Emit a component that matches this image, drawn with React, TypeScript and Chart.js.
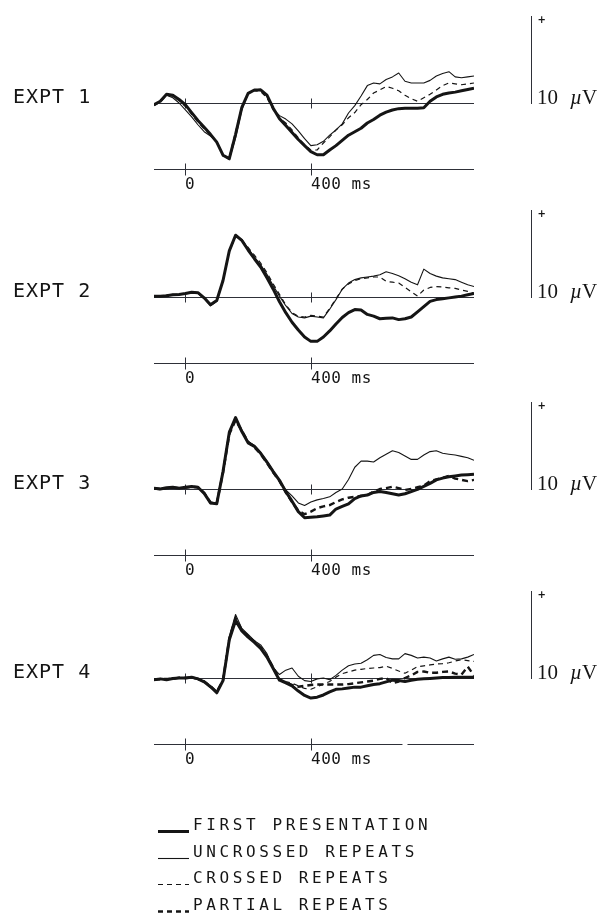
import React, { useEffect, useRef } from "react";
import { Chart, registerables } from "chart.js";

Chart.register(...registerables);

// ---------------- DATA ----------------
// Sample times (ms), every 20 ms from -100 to 920
const TIMES_MS = [
  -100, -80, -60, -40, -20, 0, 20, 40, 60, 80, 100, 120, 140, 160, 180, 200, 220, 240, 260, 280,
  300, 320, 340, 360, 380, 400, 420, 440, 460, 480, 500, 520, 540, 560, 580, 600, 620, 640, 660, 680,
  700, 720, 740, 760, 780, 800, 820, 840, 860, 880, 900, 920,
];

// Amplitudes in microvolts (positive up)
const EXPT1_FIRST = [-0.2, 0.2, 1.0, 0.9, 0.4, -0.2, -1.1, -2.0, -2.8, -3.6, -4.5, -6.0, -6.4, -3.6, -0.5, 1.1, 1.5, 1.5, 0.9, -0.6, -1.8, -2.6, -3.4, -4.2, -4.9, -5.6, -5.95, -5.95, -5.4, -4.9, -4.3, -3.7, -3.3, -2.9, -2.3, -1.9, -1.4, -1.05, -0.8, -0.65, -0.6, -0.6, -0.6, -0.55, 0.2, 0.7, 1.0, 1.15, 1.25, 1.4, 1.55, 1.7];
const EXPT1_UNCROSSED = [-0.2, 0.2, 0.9, 0.6, 0.0, -0.8, -1.6, -2.5, -3.3, -3.8, -4.4, -6.0, -6.5, -4.0, -0.8, 1.1, 1.5, 1.6, 0.8, -0.7, -1.45, -1.85, -2.4, -3.2, -4.1, -4.9, -4.8, -4.4, -3.7, -3.1, -2.4, -1.15, -0.3, 0.8, 2.0, 2.3, 2.2, 2.7, 3.0, 3.45, 2.5, 2.3, 2.3, 2.3, 2.6, 3.1, 3.4, 3.6, 3.0, 2.9, 3.0, 3.1];
const EXPT1_CROSSED = [-0.3, 0.1, 0.9, 0.8, 0.3, -0.4, -1.3, -2.2, -3.0, -3.7, -4.5, -6.1, -6.2, -3.3, -0.4, 1.1, 1.4, 1.3, 0.6, -0.8, -1.7, -2.3, -3.1, -4.0, -4.8, -5.4, -5.4, -4.6, -3.9, -3.1, -2.5, -1.7, -1.1, -0.2, 0.4, 1.15, 1.5, 1.9, 1.7, 1.4, 0.9, 0.5, 0.2, 0.6, 1.0, 1.5, 2.0, 2.3, 2.2, 2.1, 2.2, 2.3];

const EXPT2_FIRST = [0.1, 0.1, 0.15, 0.25, 0.3, 0.4, 0.55, 0.5, -0.1, -0.9, -0.4, 1.9, 5.3, 7.1, 6.5, 5.4, 4.4, 3.45, 2.2, 0.9, -0.55, -1.8, -2.9, -3.8, -4.6, -5.1, -5.1, -4.6, -3.9, -3.1, -2.35, -1.8, -1.45, -1.5, -2.0, -2.2, -2.5, -2.45, -2.4, -2.6, -2.5, -2.3, -1.7, -1.1, -0.5, -0.3, -0.2, -0.1, 0.0, 0.1, 0.25, 0.4];
const EXPT2_UNCROSSED = [0.1, 0.05, 0.2, 0.3, 0.3, 0.35, 0.5, 0.45, -0.2, -1.0, -0.5, 1.8, 5.2, 7.0, 6.6, 5.6, 4.6, 3.7, 2.6, 1.3, 0.1, -1.0, -1.9, -2.3, -2.4, -2.2, -2.3, -2.4, -1.4, -0.3, 0.9, 1.6, 2.0, 2.2, 2.3, 2.4, 2.55, 2.9, 2.7, 2.45, 2.1, 1.7, 1.4, 3.2, 2.7, 2.4, 2.2, 2.1, 2.0, 1.7, 1.4, 1.2];
const EXPT2_CROSSED = [0.1, 0.1, 0.2, 0.25, 0.35, 0.4, 0.5, 0.4, -0.15, -0.95, -0.45, 1.85, 5.2, 7.0, 6.6, 5.7, 4.8, 3.9, 2.8, 1.5, 0.3, -0.9, -1.8, -2.2, -2.3, -2.1, -2.2, -2.3, -1.3, -0.2, 0.9, 1.5, 1.9, 2.1, 2.2, 2.3, 2.3, 1.8, 1.7, 1.6, 1.1, 0.6, 0.1, 0.8, 1.1, 1.2, 1.15, 1.05, 1.0, 0.8, 0.65, 0.45];

const EXPT3_FIRST = [0.1, 0.0, 0.15, 0.2, 0.1, 0.2, 0.3, 0.2, -0.5, -1.6, -1.7, 2.0, 6.5, 8.2, 6.6, 5.3, 4.9, 4.1, 3.1, 2.0, 1.0, -0.3, -1.4, -2.6, -3.3, -3.25, -3.2, -3.1, -3.0, -2.3, -2.0, -1.7, -1.1, -0.8, -0.7, -0.4, -0.3, -0.4, -0.55, -0.7, -0.55, -0.3, -0.05, 0.3, 0.65, 1.05, 1.25, 1.4, 1.5, 1.6, 1.65, 1.7];
const EXPT3_UNCROSSED = [0.1, 0.05, 0.1, 0.2, 0.15, 0.2, 0.25, 0.15, -0.55, -1.7, -1.6, 2.2, 6.7, 8.0, 6.8, 5.5, 5.0, 4.2, 3.2, 2.1, 1.0, -0.1, -0.8, -1.6, -1.9, -1.5, -1.25, -1.1, -0.9, -0.4, 0.0, 1.1, 2.5, 3.2, 3.2, 3.1, 3.6, 4.0, 4.4, 4.2, 3.8, 3.4, 3.4, 3.9, 4.3, 4.4, 4.1, 4.0, 3.9, 3.75, 3.6, 3.3];
const EXPT3_PARTIAL = [0.05, 0.0, 0.1, 0.15, 0.1, 0.15, 0.25, 0.2, -0.45, -1.55, -1.65, 1.9, 6.3, 7.9, 6.7, 5.4, 4.8, 4.0, 3.0, 1.9, 0.9, -0.4, -1.5, -2.5, -2.9, -2.6, -2.2, -2.0, -1.85, -1.5, -1.2, -1.0, -0.9, -0.8, -0.7, -0.3, 0.0, 0.1, 0.27, 0.1, -0.1, 0.0, 0.2, 0.4, 0.9, 1.1, 1.3, 1.5, 1.2, 1.05, 0.9, 1.05];

const EXPT4_FIRST = [-0.2, -0.1, -0.2, -0.05, 0.0, 0.0, 0.1, -0.1, -0.45, -1.0, -1.7, -0.3, 4.4, 6.6, 5.4, 4.7, 4.1, 3.4, 2.4, 1.1, -0.25, -0.55, -0.9, -1.5, -2.0, -2.3, -2.2, -1.95, -1.6, -1.3, -1.25, -1.15, -1.05, -1.05, -0.9, -0.75, -0.65, -0.45, -0.25, -0.3, -0.4, -0.25, -0.15, -0.1, -0.05, 0.0, 0.05, 0.05, 0.1, 0.1, 0.1, 0.1];
const EXPT4_UNCROSSED = [-0.15, -0.05, -0.25, 0.0, 0.05, -0.05, 0.15, -0.05, -0.4, -1.1, -1.6, -0.2, 4.8, 7.3, 5.7, 5.0, 4.3, 3.8, 2.8, 1.2, 0.4, 0.9, 1.15, 0.2, -0.3, -0.4, -0.1, 0.0, -0.2, 0.3, 0.9, 1.4, 1.6, 1.7, 2.1, 2.6, 2.7, 2.35, 2.2, 2.2, 2.8, 2.6, 2.3, 2.4, 2.3, 1.95, 2.2, 2.4, 2.15, 2.2, 2.4, 2.7];
const EXPT4_CROSSED = [-0.25, -0.1, -0.15, -0.1, 0.0, 0.05, 0.05, -0.15, -0.5, -1.05, -1.65, -0.35, 4.3, 6.8, 5.6, 4.9, 4.2, 3.5, 2.5, 1.0, -0.1, -0.4, -0.6, -0.9, -1.2, -1.3, -1.0, -0.7, -0.4, 0.1, 0.5, 0.7, 0.9, 1.0, 1.1, 1.15, 1.2, 1.35, 1.1, 0.8, 0.55, 0.9, 1.3, 1.4, 1.5, 1.6, 1.65, 1.75, 1.95, 2.1, 2.0, 1.9];
const EXPT4_PARTIAL = [-0.2, -0.15, -0.1, -0.1, 0.05, 0.0, 0.05, -0.1, -0.4, -0.95, -1.6, -0.25, 4.5, 6.9, 5.5, 4.8, 4.2, 3.5, 2.5, 1.2, -0.15, -0.5, -0.8, -1.0, -0.9, -0.8, -0.75, -0.75, -0.75, -0.75, -0.75, -0.7, -0.6, -0.5, -0.4, -0.3, -0.1, 0.0, -0.6, -0.4, 0.0, 0.3, 0.7, 0.75, 0.6, 0.6, 0.7, 0.75, 0.5, 0.4, 1.3, 0.3];

const PANEL_LABELS = ["EXPT 1", "EXPT 2", "EXPT 3", "EXPT 4"];
const LEGEND_LABELS = ["FIRST PRESENTATION", "UNCROSSED REPEATS", "CROSSED REPEATS", "PARTIAL REPEATS"];
const TIME_TICKS_MS = [0, 400];
const TIME_TICK_LABELS = ["0", "400 ms"];
const CAL_UV = 10;
const CAL_LABEL = "10";
const CAL_UNIT = ["\u00b5", "V"];

// Series per panel (first entry drawn on top)
const PANEL_SERIES: [string, number[]][][] = [
  [["first", EXPT1_FIRST], ["crossed", EXPT1_CROSSED], ["uncrossed", EXPT1_UNCROSSED]],
  [["first", EXPT2_FIRST], ["crossed", EXPT2_CROSSED], ["uncrossed", EXPT2_UNCROSSED]],
  [["first", EXPT3_FIRST], ["partial", EXPT3_PARTIAL], ["uncrossed", EXPT3_UNCROSSED]],
  [["first", EXPT4_FIRST], ["partial", EXPT4_PARTIAL], ["crossed", EXPT4_CROSSED], ["uncrossed", EXPT4_UNCROSSED]],
];

// ---------------- LAYOUT / STYLE ----------------
const W = 598;
const H = 915;
const T_START = -100;
const T_END = 920;
const PX_PER_UV = 8.7;
const PANEL_BASELINE_PX = [103, 297, 489, 678];
const TIME_AXIS_UV = -7.6;
const AXIS_GAPS_MS: number[][][] = [[], [], [], [[692, 708]]];
const INK = "#151515";
const AXIS_INK = "#2e3038";

const STYLES: Record<string, { w: number; dash: number[] }> = {
  first: { w: 3, dash: [] },
  uncrossed: { w: 1.1, dash: [] },
  crossed: { w: 1.2, dash: [5, 4] },
  partial: { w: 2.4, dash: [6, 4] },
};
const LEGEND_KEYS = ["first", "uncrossed", "crossed", "partial"];

const overlayPlugin = {
  id: "erpOverlay",
  beforeDatasetsDraw(chart: any) {
    const ctx = chart.ctx as CanvasRenderingContext2D;
    const xs = chart.scales.x;
    const xl = xs.getPixelForValue(T_START);
    const xr = xs.getPixelForValue(T_END);
    ctx.save();
    ctx.strokeStyle = AXIS_INK;
    ctx.lineWidth = 1;
    PANEL_LABELS.forEach((_, k) => {
      const ys = chart.scales["y" + k];
      const y0 = Math.round(ys.getPixelForValue(0)) + 0.5;
      ctx.beginPath();
      ctx.moveTo(xl, y0);
      ctx.lineTo(xr, y0);
      TIME_TICKS_MS.forEach((t) => {
        const px = Math.round(xs.getPixelForValue(t)) + 0.5;
        ctx.moveTo(px, y0 - 5);
        ctx.lineTo(px, y0 + 5);
      });
      ctx.stroke();
    });
    ctx.restore();
  },
  afterDraw(chart: any) {
    const ctx = chart.ctx as CanvasRenderingContext2D;
    const xs = chart.scales.x;
    ctx.save();
    PANEL_LABELS.forEach((label, k) => {
      const ys = chart.scales["y" + k];
      const y0 = Math.round(ys.getPixelForValue(0));
      // time axis
      const ya = Math.round(ys.getPixelForValue(TIME_AXIS_UV)) + 0.5;
      ctx.strokeStyle = AXIS_INK;
      ctx.lineWidth = 1;
      ctx.setLineDash([]);
      const segs: number[][] = [];
      let s = T_START;
      AXIS_GAPS_MS[k].forEach((g) => {
        segs.push([s, g[0]]);
        s = g[1];
      });
      segs.push([s, T_END]);
      ctx.beginPath();
      segs.forEach((sg) => {
        ctx.moveTo(xs.getPixelForValue(sg[0]), ya);
        ctx.lineTo(xs.getPixelForValue(sg[1]), ya);
      });
      TIME_TICKS_MS.forEach((t) => {
        const px = Math.round(xs.getPixelForValue(t)) + 0.5;
        ctx.moveTo(px, ya - 6);
        ctx.lineTo(px, ya + 6);
      });
      ctx.stroke();
      // tick labels
      ctx.fillStyle = INK;
      ctx.font = '16px "DejaVu Sans Mono"';
      (ctx as any).letterSpacing = "0.5px";
      ctx.textAlign = "left";
      ctx.textBaseline = "alphabetic";
      TIME_TICKS_MS.forEach((t, i) => {
        const px = Math.round(xs.getPixelForValue(t));
        ctx.fillText(TIME_TICK_LABELS[i], px, ya + 19);
      });
      // panel label
      ctx.font = '20px "DejaVu Sans Mono"';
      (ctx as any).letterSpacing = "1px";
      ctx.fillText(label, 13, y0);
      (ctx as any).letterSpacing = "0px";
      // calibration bar
      const calX = 531.5;
      const yTop = ys.getPixelForValue(CAL_UV);
      ctx.beginPath();
      ctx.moveTo(calX, y0 + 1);
      ctx.lineTo(calX, yTop);
      ctx.stroke();
      ctx.font = 'bold 10px "DejaVu Sans"';
      ctx.fillText("+", calX + 6, yTop + 7);
      ctx.font = '21px "Liberation Serif"';
      ctx.fillText(CAL_LABEL, 537, y0 + 1);
      ctx.font = 'italic 21px "Liberation Serif"';
      ctx.fillText(CAL_UNIT[0], 570, y0 + 1);
      ctx.font = '21px "Liberation Serif"';
      ctx.fillText(CAL_UNIT[1], 582, y0 + 1);
    });

    // legend
    const legendBase = [830, 857, 883, 910];
    LEGEND_LABELS.forEach((txt, i) => {
      const st = STYLES[LEGEND_KEYS[i]];
      const yb = legendBase[i];
      ctx.strokeStyle = INK;
      ctx.lineWidth = st.w;
      ctx.setLineDash(st.dash.length ? [5, 4] : []);
      ctx.beginPath();
      ctx.moveTo(158, yb + 1.5);
      ctx.lineTo(189, yb + 1.5);
      ctx.stroke();
      ctx.setLineDash([]);
      ctx.fillStyle = INK;
      ctx.font = '16px "DejaVu Sans Mono"';
      (ctx as any).letterSpacing = "3.6px";
      ctx.fillText(txt, 193, yb);
      (ctx as any).letterSpacing = "0px";
    });
    ctx.restore();
  },
};

export default function App() {
  const ref = useRef<HTMLCanvasElement | null>(null);

  useEffect(() => {
    if (!ref.current) return;
    const datasets: any[] = [];
    PANEL_SERIES.forEach((series, k) => {
      series.forEach(([key, vals]) => {
        const st = STYLES[key];
        datasets.push({
          label: PANEL_LABELS[k] + " " + key,
          data: TIMES_MS.map((t, i) => ({ x: t, y: vals[i] })),
          yAxisID: "y" + k,
          borderColor: INK,
          borderWidth: st.w,
          borderDash: st.dash,
          borderJoinStyle: "round",
          borderCapStyle: "butt",
          pointRadius: 0,
          tension: 0,
          fill: false,
        });
      });
    });
    const scales: any = {
      x: { type: "linear", min: T_START, max: T_END, display: false },
    };
    PANEL_BASELINE_PX.forEach((y0, k) => {
      const max = y0 / PX_PER_UV;
      scales["y" + k] = {
        type: "linear",
        display: false,
        min: max - H / PX_PER_UV,
        max,
      };
    });
    const chart = new Chart(ref.current, {
      type: "line",
      data: { datasets },
      options: {
        responsive: false,
        maintainAspectRatio: false,
        animation: false,
        devicePixelRatio: 1,
        layout: { padding: { left: 154, right: 124, top: 0, bottom: 0 } },
        plugins: { legend: { display: false }, tooltip: { enabled: false } },
        scales,
      },
      plugins: [overlayPlugin],
    } as any);
    return () => chart.destroy();
  }, []);

  return (
    <div style={{ position: "absolute", left: 0, top: 0, width: W, height: H, background: "#fff" }}>
      <canvas ref={ref} width={W} height={H} style={{ width: W, height: H, display: "block" }} />
    </div>
  );
}
